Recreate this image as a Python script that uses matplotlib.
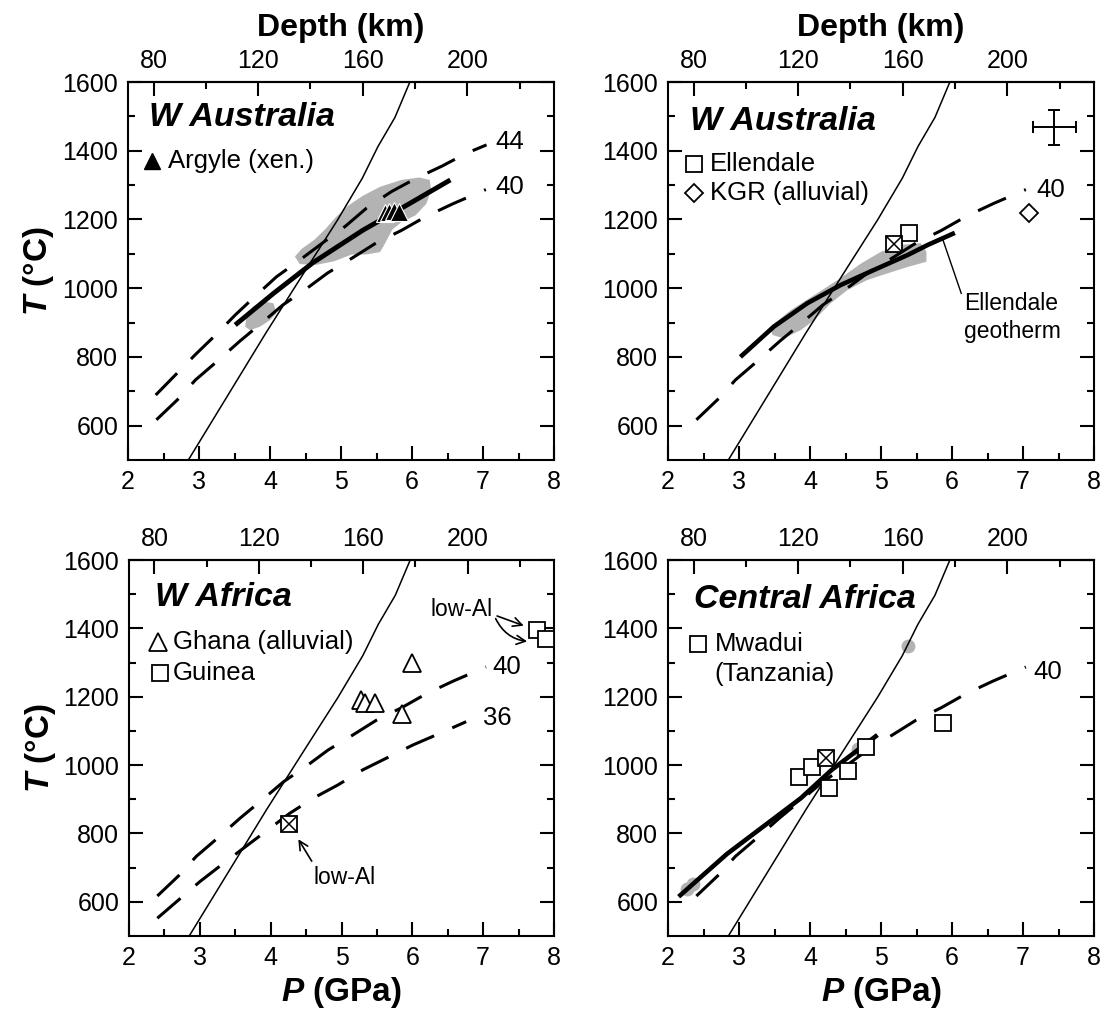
import matplotlib
matplotlib.use('Agg')
import matplotlib.pyplot as plt
import numpy as np

plt.rcParams['font.family'] = ['Liberation Sans', 'DejaVu Sans']
plt.rcParams['mathtext.fontset'] = 'custom'
plt.rcParams['mathtext.it'] = 'Liberation Sans:italic:bold'
plt.rcParams['mathtext.rm'] = 'Liberation Sans:bold'
plt.rcParams['mathtext.bf'] = 'Liberation Sans:bold'

# ---------------- data ----------------
# graphite-diamond boundary (thin line)
gd_P = [2.85, 3.5, 3.94, 4.5, 4.95, 5.3, 5.52, 5.76, 5.97]
gd_T = [500, 720, 869, 1052, 1198, 1320, 1412, 1497, 1600]

# conductive geotherms (mW/m2)
g40_P = [2.4, 2.72, 2.95, 3.26, 3.57, 3.89, 4.18, 4.51, 4.81, 5.16, 5.49, 5.85, 6.2, 6.58, 7.04]
g40_T = [617, 680, 733, 788, 845, 900, 951, 998, 1044, 1088, 1131, 1168, 1209, 1246, 1287]
g44_P = [2.39, 2.94, 3.25, 3.51, 3.81, 4.09, 4.42, 4.73, 5.06, 5.36, 5.71, 6.06, 6.42, 6.77, 7.05]
g44_T = [689, 805, 867, 922, 980, 1033, 1082, 1130, 1180, 1233, 1281, 1320, 1355, 1393, 1417]
g36_P = [2.4, 3.0, 3.33, 4.27, 4.6, 4.95, 5.3, 5.66, 6.01, 6.39, 6.76]
g36_T = [552, 659, 712, 859, 903, 942, 986, 1023, 1059, 1093, 1127]

# local geotherms (thick)
argyle_geo_P = [3.51, 4.05, 4.61, 5.31, 5.93, 6.54]
argyle_geo_T = [893, 985, 1075, 1169, 1242, 1315]
ellendale_geo_P = [3.02, 3.49, 3.96, 4.43, 4.90, 5.38, 5.66, 6.04]
ellendale_geo_T = [800, 888, 956, 1009, 1053, 1097, 1126, 1161]
central_geo_P = [2.15, 2.83, 3.87, 4.3, 4.95]
central_geo_T = [615, 740, 903, 985, 1088]

# shaded fields
argyle_shade_P = [4.35, 4.45, 4.62, 4.78, 4.92, 5.1, 5.3, 5.55, 5.85, 6.1, 6.25, 6.27, 6.2,
                  6.05, 5.85, 5.72, 5.62, 5.55, 5.35, 5.15, 4.9, 4.65, 4.42]
argyle_shade_T = [1092, 1115, 1140, 1172, 1205, 1240, 1268, 1295, 1315, 1322, 1315, 1285, 1245,
                  1212, 1192, 1170, 1130, 1105, 1098, 1098, 1078, 1068, 1070]
argyle_shade2_P = [3.65, 3.67, 3.76, 3.91, 4.05, 4.09, 4.0, 3.86, 3.72]
argyle_shade2_T = [888, 917, 946, 961, 956, 927, 907, 888, 878]
ellendale_shade_P = [3.44, 3.73, 4.06, 4.43, 4.72, 5.0, 5.28, 5.56, 5.64, 5.64, 5.38, 5.09,
                     4.81, 4.53, 4.29, 4.06, 3.87, 3.63, 3.47]
ellendale_shade_T = [888, 936, 980, 1029, 1072, 1106, 1126, 1131, 1106, 1077, 1062, 1043,
                     1024, 995, 956, 907, 878, 854, 864]
central_gray_P = [5.38, 2.27, 2.35, 4.68]
central_gray_T = [1348, 638, 652, 1047]

# samples
argyle_P = [5.62, 5.68, 5.74, 5.82]
argyle_T = [1218, 1222, 1226, 1222]
ellendale_P = [5.40]
ellendale_T = [1160]
ellendale_x_P = [5.19]
ellendale_x_T = [1128]
kgr_P = [7.09]
kgr_T = [1220]
ghana_P = [5.27, 5.33, 5.47, 5.85, 5.99]
ghana_T = [1190, 1181, 1183, 1149, 1300]
guinea_P = [7.76, 7.88]
guinea_T = [1395, 1368]
guinea_x_P = [4.26]
guinea_x_T = [828]
mwadui_P = [3.85, 4.03, 4.27, 4.53, 4.79, 5.87]
mwadui_T = [966, 995, 934, 984, 1054, 1124]
mwadui_x_P = [4.22]
mwadui_x_T = [1020]

# error bar
err_P, err_T, err_dP, err_dT = 7.44, 1468, 0.30, 50

titles = ['W Australia', 'W Australia', 'W Africa', 'Central Africa']
depth_major = [80, 120, 160, 200]
depth_minor = [100, 140, 180, 220]


def p2d(P):
    return (np.asarray(P) + 0.5867) / 0.036833


def d2p(D):
    return np.asarray(D) * 0.036833 - 0.5867


# ---------------- figure ----------------
fig = plt.figure(figsize=(11.02, 10.13), dpi=100)
W, H = 1102.0, 1013.0
boxes = [(128, 82, 426, 378), (668, 82, 426, 378), (129, 560, 425, 376), (668, 560, 426, 376)]
axes = []
for (l, t, w, h) in boxes:
    axes.append(fig.add_axes([l / W, 1 - (t + h) / H, w / W, h / H]))

DASH = (10, 6.5)
GRAY = '#b3b3b3'
LEG = 18.5

for i, ax in enumerate(axes):
    ax.set_xlim(2, 8)
    ax.set_ylim(500, 1600)
    ax.set_xticks(range(2, 9))
    ax.set_xticks(np.arange(2.5, 8, 1), minor=True)
    ax.set_yticks(range(600, 1601, 200))
    ax.set_yticks(range(700, 1600, 200), minor=True)
    ax.tick_params(which='both', direction='in', top=False, right=True, width=1.5)
    ax.tick_params(which='major', length=10, labelsize=18)
    ax.tick_params(which='minor', length=5)
    ax.tick_params(axis='x', pad=7)
    ax.tick_params(axis='y', pad=7)
    for s in ax.spines.values():
        s.set_linewidth(1.5)
    sec = ax.secondary_xaxis('top', functions=(p2d, d2p))
    sec.set_xticks(depth_major)
    sec.set_xticks(depth_minor, minor=True)
    sec.tick_params(which='both', direction='in', width=1.5)
    sec.tick_params(which='major', length=10, labelsize=18, pad=6.5)
    sec.tick_params(which='minor', length=5)
    sec.spines['top'].set_linewidth(1.5)
    if i % 2 == 0:
        ax.set_ylabel(r'$T$ (°C)', fontsize=24, fontweight='bold')
        ax.yaxis.set_label_coords(-0.168, 0.5)
    if i >= 2:
        ax.set_xlabel(r'$P$ (GPa)', fontsize=24, fontweight='bold')
        ax.xaxis.set_label_coords(0.5, -0.105)
    # graphite-diamond line
    ax.plot(gd_P, gd_T, color='black', lw=1.1, zorder=3)

# top "Depth (km)" labels
for (l, t, w, h) in boxes[:2]:
    fig.text((l + w / 2) / W, 1 - 36 / H, 'Depth (km)', fontsize=23, fontweight='bold',
             ha='center', va='baseline')

title_pos = [(2.29, 1497), (2.31, 1484), (2.37, 1491), (2.36, 1483)]
for ax, t, (x, y) in zip(axes, titles, title_pos):
    ax.text(x, y, t, fontsize=24.5, fontweight='bold', fontstyle='italic', ha='left', va='center')

# ---- panel 1: W Australia / Argyle ----
ax = axes[0]
ax.fill(argyle_shade_P, argyle_shade_T, color=GRAY, lw=0, zorder=1)
ax.fill(argyle_shade2_P, argyle_shade2_T, color=GRAY, lw=0, zorder=1)
ax.plot(g44_P, g44_T, color='black', lw=2.2, dashes=DASH, zorder=2)
ax.plot(g40_P, g40_T, color='black', lw=2.2, dashes=DASH, zorder=2)
ax.plot(argyle_geo_P, argyle_geo_T, color='black', lw=3.5, solid_capstyle='butt', zorder=4)
for p, t in zip(argyle_P, argyle_T):
    ax.plot([p], [t], marker='^', ms=13, mfc='black', mec='white', mew=0.8, ls='none', zorder=5)
ax.text(7.17, 1426, '44', fontsize=LEG, ha='left', va='center')
ax.text(7.17, 1295, '40', fontsize=LEG, ha='left', va='center')
ax.plot([2.34], [1370], marker='^', ms=12, color='black', ls='none')
ax.text(2.57, 1370, 'Argyle (xen.)', fontsize=LEG, ha='left', va='center')

# ---- panel 2: W Australia / Ellendale ----
ax = axes[1]
ax.fill(ellendale_shade_P, ellendale_shade_T, color=GRAY, lw=0, zorder=1)
ax.plot(g40_P, g40_T, color='black', lw=2.2, dashes=DASH, zorder=2)
ax.plot(ellendale_geo_P, ellendale_geo_T, color='black', lw=3.3, solid_capstyle='butt', zorder=4)
ax.plot(ellendale_P, ellendale_T, marker='s', ms=11, mfc='white', mec='black', mew=1.3, ls='none', zorder=5)
ax.plot(ellendale_x_P, ellendale_x_T, marker='s', ms=11, mfc='white', mec='black', mew=1.3, ls='none', zorder=5)
ax.plot(ellendale_x_P, ellendale_x_T, marker='x', ms=11, mec='black', mew=1.1, ls='none', zorder=6)
ax.plot(kgr_P, kgr_T, marker='D', ms=9, mfc='white', mec='black', mew=1.3, ls='none', zorder=5)
ax.errorbar([err_P], [err_T], xerr=[err_dP], yerr=[err_dT], color='black', lw=1.4, capsize=4, capthick=1.4)
ax.plot([5.87, 6.13], [1142, 985], color='black', lw=1.0)
ax.text(6.17, 954, 'Ellendale', fontsize=16.5, ha='left', va='center')
ax.text(6.17, 873, 'geotherm', fontsize=16.5, ha='left', va='center')
ax.text(7.19, 1286, '40', fontsize=LEG, ha='left', va='center')
ax.plot([2.37], [1360], marker='s', ms=11, mfc='white', mec='black', mew=1.3, ls='none')
ax.text(2.59, 1360, 'Ellendale', fontsize=LEG, ha='left', va='center')
ax.plot([2.37], [1276], marker='D', ms=9, mfc='white', mec='black', mew=1.3, ls='none')
ax.text(2.59, 1276, 'KGR (alluvial)', fontsize=LEG, ha='left', va='center')

# ---- panel 3: W Africa ----
ax = axes[2]
ax.plot(g40_P, g40_T, color='black', lw=2.2, dashes=DASH, zorder=2)
ax.plot(g36_P, g36_T, color='black', lw=2.2, dashes=DASH, zorder=2)
ax.plot(ghana_P, ghana_T, marker='^', ms=13, mfc='white', mec='black', mew=1.3, ls='none', zorder=5)
ax.plot(guinea_P, guinea_T, marker='s', ms=11, mfc='white', mec='black', mew=1.3, ls='none', zorder=5)
ax.plot(guinea_x_P, guinea_x_T, marker='s', ms=11, mfc='white', mec='black', mew=1.3, ls='none', zorder=5)
ax.plot(guinea_x_P, guinea_x_T, marker='x', ms=11, mec='black', mew=1.1, ls='none', zorder=6)
ax.text(7.13, 1288, '40', fontsize=LEG, ha='left', va='center')
ax.text(7.0, 1138, '36', fontsize=LEG, ha='left', va='center')
ax.plot([2.41], [1361], marker='^', ms=13, mfc='white', mec='black', mew=1.3, ls='none')
ax.text(2.62, 1361, 'Ghana (alluvial)', fontsize=LEG, ha='left', va='center')
ax.plot([2.44], [1268], marker='s', ms=11, mfc='white', mec='black', mew=1.3, ls='none')
ax.text(2.62, 1268, 'Guinea', fontsize=LEG, ha='left', va='center')
ax.text(6.25, 1454, 'low-Al', fontsize=16.5, ha='left', va='center')
ax.annotate('', xy=(7.61, 1405), xytext=(7.16, 1439),
            arrowprops=dict(arrowstyle='->', lw=1.2, color='black', mutation_scale=16))
ax.annotate('', xy=(7.66, 1361), xytext=(7.16, 1436),
            arrowprops=dict(arrowstyle='->', lw=1.2, color='black', mutation_scale=16,
                            connectionstyle='arc3,rad=0.3'))
ax.text(4.6, 670, 'low-Al', fontsize=16.5, ha='left', va='center')
ax.annotate('', xy=(4.37, 790), xytext=(4.6, 712),
            arrowprops=dict(arrowstyle='->', lw=1.2, color='black', mutation_scale=16))

# ---- panel 4: Central Africa ----
ax = axes[3]
ax.plot(central_gray_P, central_gray_T, marker='o', ms=9, color=GRAY, ls='none', zorder=1)
ax.plot(g40_P, g40_T, color='black', lw=2.2, dashes=DASH, zorder=2)
ax.plot(central_geo_P, central_geo_T, color='black', lw=3.3, solid_capstyle='butt', zorder=4)
ax.plot(mwadui_P, mwadui_T, marker='s', ms=12, mfc='white', mec='black', mew=1.3, ls='none', zorder=5)
ax.plot(mwadui_x_P, mwadui_x_T, marker='s', ms=12, mfc='white', mec='black', mew=1.3, ls='none', zorder=5)
ax.plot(mwadui_x_P, mwadui_x_T, marker='x', ms=12, mec='black', mew=1.1, ls='none', zorder=6)
ax.text(7.14, 1273, '40', fontsize=LEG, ha='left', va='center')
ax.plot([2.42], [1354], marker='s', ms=11, mfc='white', mec='black', mew=1.3, ls='none')
ax.text(2.66, 1354, 'Mwadui', fontsize=LEG, ha='left', va='center')
ax.text(2.66, 1266, '(Tanzania)', fontsize=LEG, ha='left', va='center')

fig.savefig('out.png', dpi=100)
